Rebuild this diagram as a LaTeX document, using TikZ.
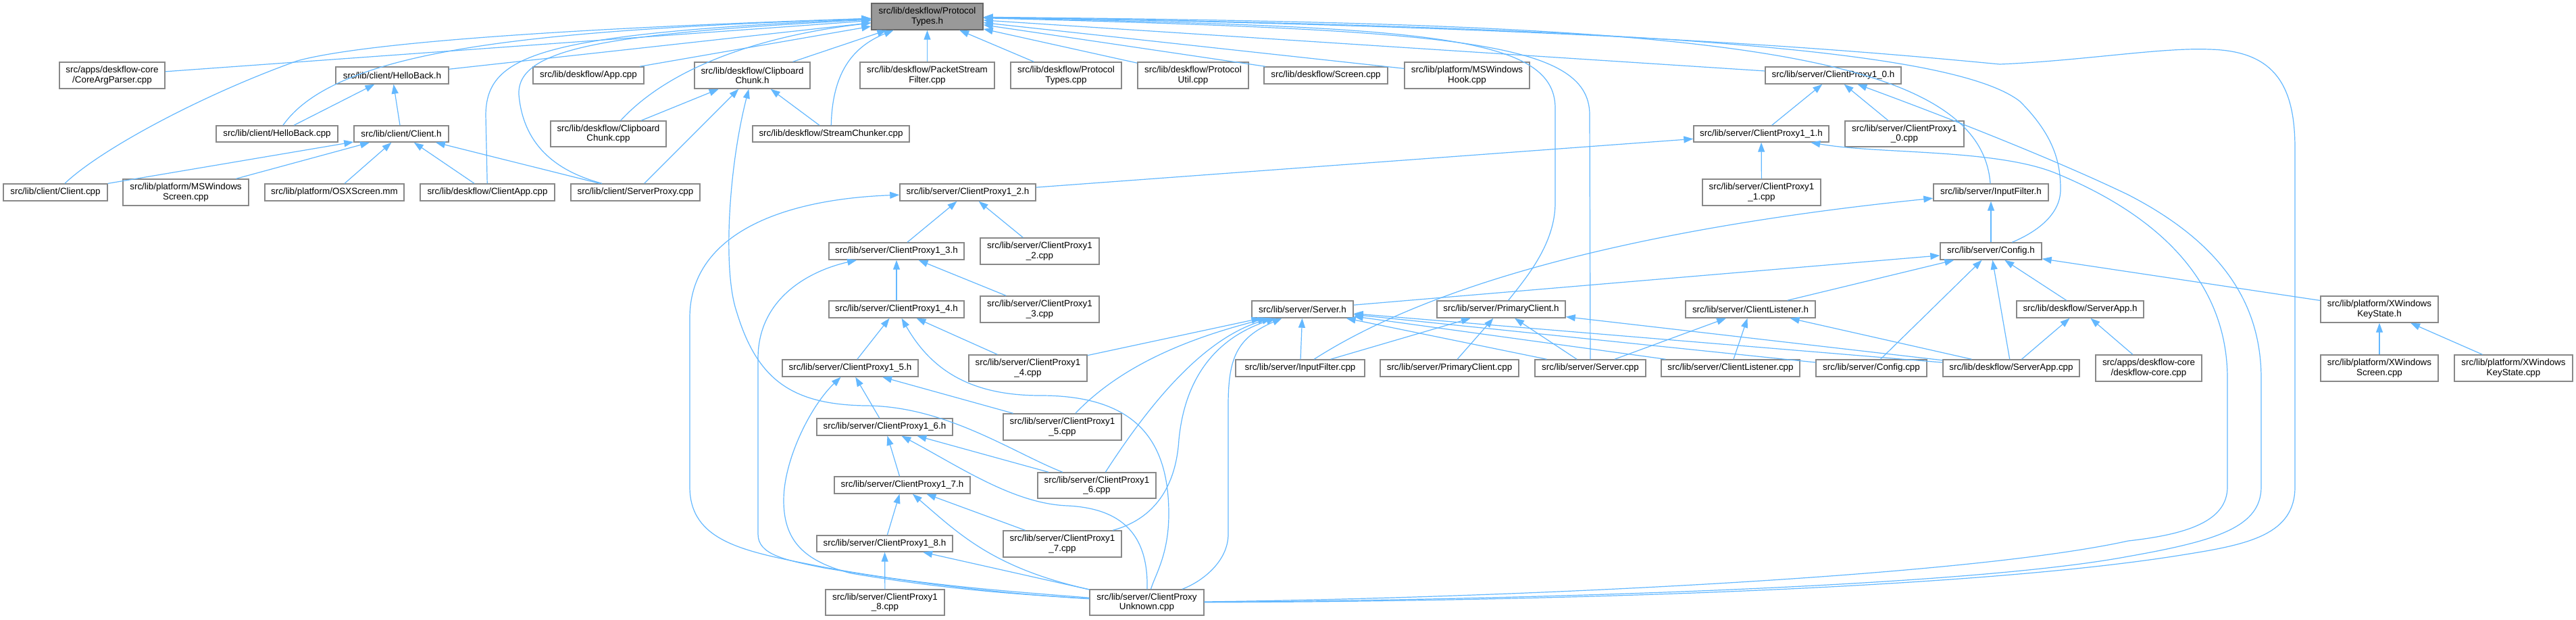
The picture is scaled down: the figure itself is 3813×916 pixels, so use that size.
\documentclass[tikz,border=0pt]{standalone}
\usepackage{fontspec}
\setmainfont{Liberation Sans}
\usetikzlibrary{arrows.meta}
\definecolor{edgec}{HTML}{63B8FF}
\definecolor{bord}{HTML}{888888}
\definecolor{rootf}{HTML}{999999}
\definecolor{rootb}{HTML}{666666}
\newcommand{\nbox}[7][box]{\node[#1,minimum width={(#5-#3)*0.5pt},minimum height={(#6-#4)*0.5pt}] (#2) at ({(#3+#5)/2},{(#4+#6)/2}) {#7};}
\begin{document}
\begin{tikzpicture}[x=0.5pt,y=-0.5pt,
 box/.style={draw=bord, fill=white, line width=0.7pt, inner sep=0pt, align=center, font=\fontsize{6.7}{7.1}\selectfont},
 root/.style={box, fill=rootf, draw=rootb},
 e/.style={draw=edgec, line width=0.6pt, arrows={Triangle[length=7pt,width=5pt]-}}]
\fill[white] (0,0) rectangle (3813,916);
\useasboundingbox (0,0) rectangle (3813,916);
% row 1
\nbox[root]{pt}{1290}{5}{1455}{44}{src/lib/deskflow/Protocol\\Types.h}
% row 2
\nbox{cap}{88}{92}{244}{131}{src/apps/deskflow-core\\/CoreArgParser.cpp}
\nbox{hbh}{497}{99}{664}{124}{src/lib/client/HelloBack.h}
\nbox{app}{789}{99}{953}{124}{src/lib/deskflow/App.cpp}
\nbox{cch}{1028}{92}{1199}{131}{src/lib/deskflow/Clipboard\\Chunk.h}
\nbox{psf}{1273}{92}{1472}{131}{src/lib/deskflow/PacketStream\\Filter.cpp}
\nbox{ptc}{1496}{92}{1660}{131}{src/lib/deskflow/Protocol\\Types.cpp}
\nbox{puc}{1684}{92}{1848}{131}{src/lib/deskflow/Protocol\\Util.cpp}
\nbox{scr}{1871}{99}{2054}{124}{src/lib/deskflow/Screen.cpp}
\nbox{mwh}{2079}{92}{2264}{131}{src/lib/platform/MSWindows\\Hook.cpp}
\nbox{cpa}{2613}{99}{2814}{124}{src/lib/server/ClientProxy1\_0.h}
% row 3
\nbox{hbc}{320}{186}{500}{210}{src/lib/client/HelloBack.cpp}
\nbox{clh}{524}{186}{664}{210}{src/lib/client/Client.h}
\nbox{ccc}{815}{179}{986}{217}{src/lib/deskflow/Clipboard\\Chunk.cpp}
\nbox{stc}{1114}{186}{1346}{210}{src/lib/deskflow/StreamChunker.cpp}
\nbox{cpb}{2507}{186}{2707}{210}{src/lib/server/ClientProxy1\_1.h}
\nbox{cpac}{2731}{179}{2907}{217}{src/lib/server/ClientProxy1\\\_0.cpp}
% row 4
\nbox{clc}{5}{272}{159}{297}{src/lib/client/Client.cpp}
\nbox{mws}{182}{265}{368}{304}{src/lib/platform/MSWindows\\Screen.cpp}
\nbox{osx}{392}{272}{598}{297}{src/lib/platform/OSXScreen.mm}
\nbox{capp}{622}{272}{821}{297}{src/lib/deskflow/ClientApp.cpp}
\nbox{spc}{845}{272}{1036}{297}{src/lib/client/ServerProxy.cpp}
\nbox{cpc}{1332}{272}{1533}{297}{src/lib/server/ClientProxy1\_2.h}
\nbox{cpbc}{2520}{265}{2695}{304}{src/lib/server/ClientProxy1\\\_1.cpp}
\nbox{ifh}{2862}{272}{3032}{297}{src/lib/server/InputFilter.h}
% row 5
\nbox{cpd}{1227}{359}{1427}{384}{src/lib/server/ClientProxy1\_3.h}
\nbox{cpcc}{1451}{352}{1627}{391}{src/lib/server/ClientProxy1\\\_2.cpp}
\nbox{cfh}{2872}{359}{3022}{384}{src/lib/server/Config.h}
% row 6
\nbox{cpe}{1227}{445}{1427}{470}{src/lib/server/ClientProxy1\_4.h}
\nbox{cpdc}{1451}{438}{1627}{477}{src/lib/server/ClientProxy1\\\_3.cpp}
\nbox{svh}{1853}{445}{2003}{470}{src/lib/server/Server.h}
\nbox{pch}{2127}{445}{2317}{470}{src/lib/server/PrimaryClient.h}
\nbox{clnh}{2495}{445}{2687}{470}{src/lib/server/ClientListener.h}
\nbox{sah}{2985}{445}{3173}{470}{src/lib/deskflow/ServerApp.h}
\nbox{xksh}{3435}{438}{3609}{477}{src/lib/platform/XWindows\\KeyState.h}
% row 7
\nbox{cpf}{1158}{532}{1359}{557}{src/lib/server/ClientProxy1\_5.h}
\nbox{cpec}{1434}{525}{1609}{564}{src/lib/server/ClientProxy1\\\_4.cpp}
\nbox{ifc}{1829}{532}{2020}{557}{src/lib/server/InputFilter.cpp}
\nbox{pcc}{2043}{532}{2248}{557}{src/lib/server/PrimaryClient.cpp}
\nbox{svc}{2272}{532}{2436}{557}{src/lib/server/Server.cpp}
\nbox{clnc}{2459}{532}{2664}{557}{src/lib/server/ClientListener.cpp}
\nbox{cfc}{2688}{532}{2852}{557}{src/lib/server/Config.cpp}
\nbox{sac}{2876}{532}{3078}{557}{src/lib/deskflow/ServerApp.cpp}
\nbox{dfc}{3102}{525}{3259}{564}{src/apps/deskflow-core\\/deskflow-core.cpp}
\nbox{xsc}{3435}{525}{3609}{564}{src/lib/platform/XWindows\\Screen.cpp}
\nbox{xksc}{3633}{525}{3808}{564}{src/lib/platform/XWindows\\KeyState.cpp}
% row 8-11
\nbox{cpg}{1209}{619}{1410}{644}{src/lib/server/ClientProxy1\_6.h}
\nbox{cpfc}{1485}{612}{1660}{651}{src/lib/server/ClientProxy1\\\_5.cpp}
\nbox{cph}{1235}{705}{1436}{730}{src/lib/server/ClientProxy1\_7.h}
\nbox{cpgc}{1536}{699}{1711}{737}{src/lib/server/ClientProxy1\\\_6.cpp}
\nbox{cpi}{1209}{792}{1410}{816}{src/lib/server/ClientProxy1\_8.h}
\nbox{cphc}{1485}{785}{1660}{824}{src/lib/server/ClientProxy1\\\_7.cpp}
\nbox{cpic}{1222}{872}{1398}{910}{src/lib/server/ClientProxy1\\\_8.cpp}
\nbox{cpu}{1613}{872}{1782}{910}{src/lib/server/ClientProxy\\Unknown.cpp}

% ---- edges into ProtocolTypes.h
\draw[e] (pt) -- (cap);
\draw[e] (pt) -- (hbh);
\draw[e] (pt) .. controls (900,40) and (550,60) .. (440,90) .. controls (300,140) and (150,220) .. (clc);
\draw[e] (pt) .. controls (800,45) and (500,70) .. (hbc);
\draw[e] (pt) .. controls (800,50) and (720,80) .. (719,170) -- (capp);
\draw[e] (pt) .. controls (900,50) and (765,70) .. (768,140) .. controls (775,220) and (830,255) .. (spc);
\draw[e] (pt) -- (app);
\draw[e] (pt) .. controls (1150,50) and (1000,90) .. (ccc);
\draw[e] (pt) -- (cch);
\draw[e] (pt) .. controls (1260,70) and (1232,110) .. (stc);
\draw[e] (pt) -- (psf);
\draw[e] (pt) -- (ptc);
\draw[e] (pt) -- (puc);
\draw[e] (pt) -- (scr);
\draw[e] (pt) -- (mwh);
\draw[e] (pt) -- (cpa);
\draw[e] (pt) .. controls (2100,40) and (2302,50) .. (2302,160) -- (2302,300) .. controls (2302,360) and (2260,410) .. (pch);
\draw[e] (pt) .. controls (2150,45) and (2353,60) .. (2353,170) -- (svc);
\draw[e] (pt) .. controls (2450,35) and (2930,60) .. (ifh);
\draw[e] (pt) .. controls (2500,40) and (2900,80) .. (2990,150) .. controls (3040,200) and (3050,240) .. (3050,280) .. controls (3050,320) and (3010,345) .. (cfh);
\draw[e] (pt) .. controls (2400,40) and (2800,80) .. (2960,95) .. controls (3080,90) and (3200,70) .. (3270,73) .. controls (3370,75) and (3397,130) .. (3397,220) -- (3397,720) .. controls (3397,790) and (3330,805) .. (3235,820) .. controls (2900,875) and (2200,890) .. (cpu);

% ---- ClientProxy1_0.h / 1_1.h
\draw[e] (cpa) -- (cpb);
\draw[e] (cpa) -- (cpac);
\draw[e] (cpa) .. controls (2900,180) and (3050,240) .. (3150,288) .. controls (3290,360) and (3347,450) .. (3347,560) -- (3347,720) .. controls (3347,780) and (3280,800) .. (3150,823) .. controls (2900,870) and (2200,888) .. (cpu);
\draw[e] (cpb) -- (cpbc);
\draw[e] (cpb) -- (cpc);
\draw[e] (cpb) .. controls (2780,228) and (2950,220) .. (3040,255) .. controls (3200,320) and (3297,420) .. (3297,560) -- (3297,720) .. controls (3297,770) and (3240,790) .. (3150,800) .. controls (2900,855) and (2200,885) .. (cpu);

% ---- ClientProxy chain
\draw[e] (cpc) -- (cpd);
\draw[e] (cpc) -- (cpcc);
\draw[e] (cpc) .. controls (1150,295) and (1021,350) .. (1021,470) -- (1021,720) .. controls (1021,800) and (1100,815) .. (1200,835) .. controls (1350,865) and (1500,875) .. (cpu);
\draw[e] (cpd) -- (cpe);
\draw[e] (cpd) -- (cpdc);
\draw[e] (cpd) .. controls (1200,400) and (1122,440) .. (1122,530) -- (1122,790) .. controls (1122,820) and (1160,828) .. (1220,840) .. controls (1400,870) and (1520,880) .. (cpu);
\draw[e] (cpe) -- (cpf);
\draw[e] (cpe) -- (cpec);
\draw[e] (cpe) .. controls (1380,550) and (1440,585) .. (1540,585) .. controls (1680,585) and (1730,650) .. (1730,760) .. controls (1730,820) and (1710,850) .. (cpu);
\draw[e] (cpf) -- (cpg);
\draw[e] (cpf) -- (cpfc);
\draw[e] (cpf) .. controls (1200,600) and (1160,680) .. (1160,740) .. controls (1160,800) and (1190,830) .. (1260,848) .. controls (1420,875) and (1530,880) .. (cpu);
\draw[e] (cpg) -- (cph);
\draw[e] (cpg) -- (cpgc);
\draw[e] (cpg) .. controls (1420,690) and (1500,745) .. (1580,748) .. controls (1660,752) and (1700,790) .. (cpu);
\draw[e] (cph) -- (cpi);
\draw[e] (cph) -- (cphc);
\draw[e] (cph) .. controls (1420,790) and (1470,840) .. (cpu);
\draw[e] (cpi) -- (cpic);
\draw[e] (cpi) -- (cpu);

% ---- ClipboardChunk.h
\draw[e] (cch) -- (ccc);
\draw[e] (cch) -- (spc);
\draw[e] (cch) -- (stc);
\draw[e] (cch) .. controls (1078,250) and (1070,400) .. (1090,460) .. controls (1120,560) and (1170,598) .. (1280,600) .. controls (1400,600) and (1500,670) .. (cpgc);

% ---- client side
\draw[e] (clh) -- (clc);
\draw[e] (clh) -- (mws);
\draw[e] (clh) -- (osx);
\draw[e] (clh) -- (capp);
\draw[e] (clh) -- (spc);
\draw[e] (hbh) -- (clh);
\draw[e] (hbh) -- (hbc);

% ---- Server.h
\draw[e] (svh) -- (ifc);
\draw[e] (svh) -- (svc);
\draw[e] (svh) -- (clnc);
\draw[e] (svh) -- (cfc);
\draw[e] (svh) -- (sac);
\draw[e] (svh) -- (cpec);
\draw[e] (svh) .. controls (1760,500) and (1660,540) .. (cpfc);
\draw[e] (svh) .. controls (1780,500) and (1700,600) .. (cpgc);
\draw[e] (svh) .. controls (1770,510) and (1750,600) .. (1745,650) .. controls (1740,730) and (1700,770) .. (cphc);
\draw[e] (svh) .. controls (1830,500) and (1818,530) .. (1818,600) -- (1818,790) .. controls (1818,830) and (1780,860) .. (cpu);
\draw[e] (cfh) -- (svh);

% ---- PrimaryClient.h
\draw[e] (pch) -- (ifc);
\draw[e] (pch) -- (pcc);
\draw[e] (pch) -- (svc);
\draw[e] (pch) -- (sac);

% ---- ClientListener.h
\draw[e] (clnh) -- (svc);
\draw[e] (clnh) -- (clnc);
\draw[e] (clnh) -- (sac);
\draw[e] (cfh) -- (clnh);

% ---- Config.h
\draw[e] (cfh) -- (cfc);
\draw[e] (cfh) -- (sac);
\draw[e] (cfh) -- (sah);
\draw[e] (cfh) -- (xksh);
\draw[e] (ifh) -- (cfh);
\draw[e] (ifh) .. controls (2500,330) and (2150,400) .. (ifc);

% ---- ServerApp.h, XWindowsKeyState.h
\draw[e] (sah) -- (sac);
\draw[e] (sah) -- (dfc);
\draw[e] (xksh) -- (xsc);
\draw[e] (xksh) -- (xksc);
\end{tikzpicture}
\end{document}
